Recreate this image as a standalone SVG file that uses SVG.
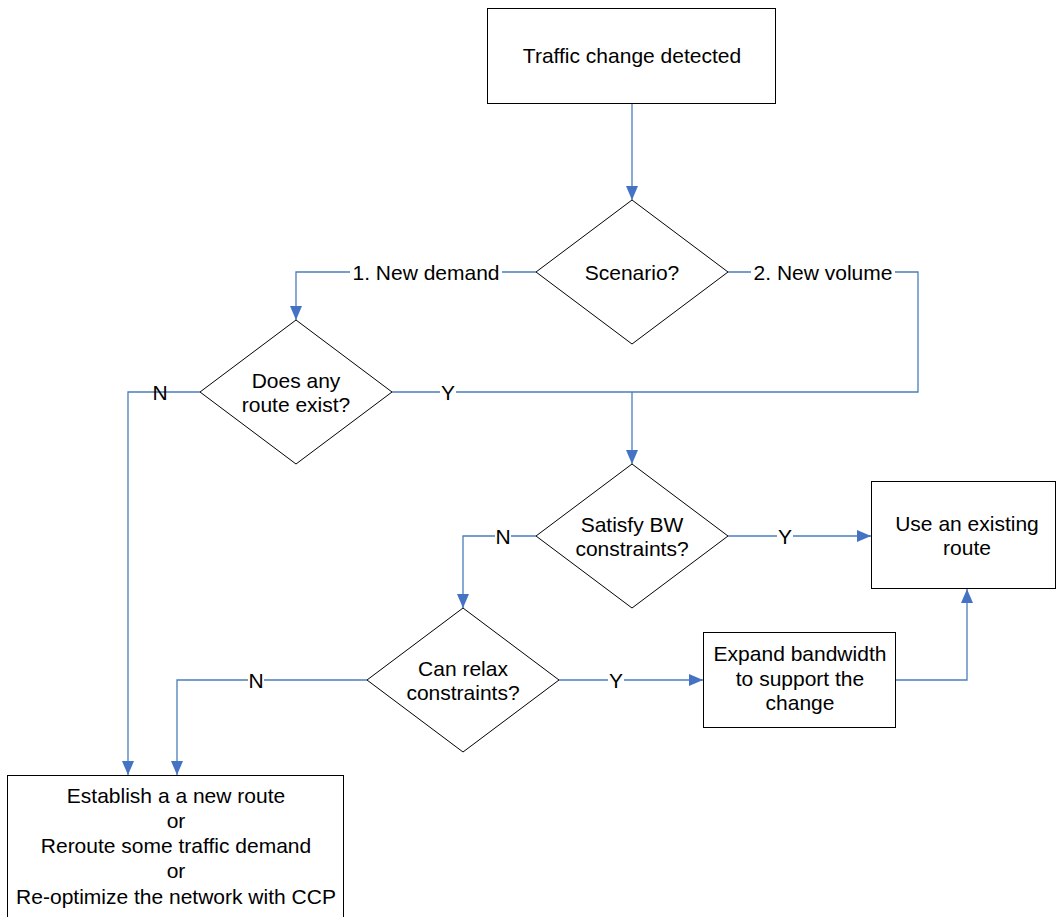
<svg xmlns="http://www.w3.org/2000/svg" width="1056" height="917" viewBox="0 0 1056 917">
  <style>
    .box { fill: #ffffff; stroke: #000000; stroke-width: 1; }
    .t { font-family: "Liberation Sans", Arial, sans-serif; font-size: 21px; fill: #000000; text-anchor: middle; }
    .wire { fill: none; stroke: #4a7ebb; stroke-width: 1.3; }
    .arrow { fill: none; stroke: #4a7ebb; stroke-width: 1.3; marker-end: url(#head); }
    .lblbg { fill: #ffffff; }
  </style>
  <defs>
    <marker id="head" markerUnits="userSpaceOnUse" markerWidth="14" markerHeight="12" refX="14" refY="6" orient="auto">
      <path d="M0,0 L14,6 L0,12 Z" fill="#4472c4"/>
    </marker>
  </defs>
  <rect width="1056" height="917" fill="#ffffff"/>

  <!-- connectors -->
  <g id="connectors">
    <path class="arrow" d="M632,104 V200"/>
    <path class="arrow" d="M536,272 H296 V320"/>
    <path class="wire" d="M728,272 H918 V392 H392"/>
    <path class="arrow" d="M632,392 V464"/>
    <path class="arrow" d="M200,392 H128 V775"/>
    <path class="arrow" d="M536,536 H463 V608"/>
    <path class="arrow" d="M728,536 H871"/>
    <path class="arrow" d="M367,680 H177 V775"/>
    <path class="arrow" d="M559,680 H703"/>
    <path class="arrow" d="M896,680 H967 V589"/>

    <!-- branch labels -->
    <rect class="lblbg" x="350" y="262" width="152" height="20"/>
    <text class="t" x="426" y="279.5">1. New demand</text>
    <rect class="lblbg" x="751" y="262" width="144" height="20"/>
    <text class="t" x="823" y="279.5">2. New volume</text>
    <rect class="lblbg" x="440" y="382" width="16" height="20"/>
    <text class="t" x="448" y="399.5">Y</text>
    <text class="t" x="160" y="399.5">N</text>
    <rect class="lblbg" x="495" y="526" width="16" height="20"/>
    <text class="t" x="503" y="543.5">N</text>
    <rect class="lblbg" x="777" y="526" width="16" height="20"/>
    <text class="t" x="785" y="543.5">Y</text>
    <rect class="lblbg" x="248" y="670" width="16" height="20"/>
    <text class="t" x="256" y="687.5">N</text>
    <rect class="lblbg" x="608" y="670" width="16" height="20"/>
    <text class="t" x="616" y="687.5">Y</text>
  </g>

  <g id="traffic-change">
    <rect class="box" x="487.5" y="8.5" width="288" height="95"/>
    <text class="t" x="632" y="63">Traffic change detected</text>
  </g>

  <g id="scenario">
    <polygon class="box" points="632,200 728,272 632,344 536,272"/>
    <text class="t" x="632" y="279.5">Scenario?</text>
  </g>

  <g id="route-exists">
    <polygon class="box" points="296,320 392,392 296,464 200,392"/>
    <text class="t" x="296" y="387.5">Does any</text>
    <text class="t" x="296" y="411.5">route exist?</text>
  </g>

  <g id="satisfy-bw">
    <polygon class="box" points="632,464 728,536 632,608 536,536"/>
    <text class="t" x="632" y="531.5">Satisfy BW</text>
    <text class="t" x="632" y="555.5">constraints?</text>
  </g>

  <g id="relax">
    <polygon class="box" points="463,608 559,680 463,752 367,680"/>
    <text class="t" x="463" y="675.5">Can relax</text>
    <text class="t" x="463" y="699.5">constraints?</text>
  </g>

  <g id="use-existing">
    <rect class="box" x="871.5" y="481.5" width="184" height="107"/>
    <text class="t" x="967" y="531">Use an existing</text>
    <text class="t" x="967" y="555">route</text>
  </g>

  <g id="expand-bw">
    <rect class="box" x="703.5" y="632.5" width="192" height="95"/>
    <text class="t" x="800" y="661">Expand bandwidth</text>
    <text class="t" x="800" y="685.5">to support the</text>
    <text class="t" x="800" y="710">change</text>
  </g>

  <g id="new-route">
    <rect class="box" x="7.5" y="775.5" width="336" height="150"/>
    <text class="t" x="176" y="803">Establish a a new route</text>
    <text class="t" x="176" y="828">or</text>
    <text class="t" x="176" y="853">Reroute some traffic demand</text>
    <text class="t" x="176" y="878">or</text>
    <text class="t" x="176" y="904">Re-optimize the network with CCP</text>
  </g>
</svg>
